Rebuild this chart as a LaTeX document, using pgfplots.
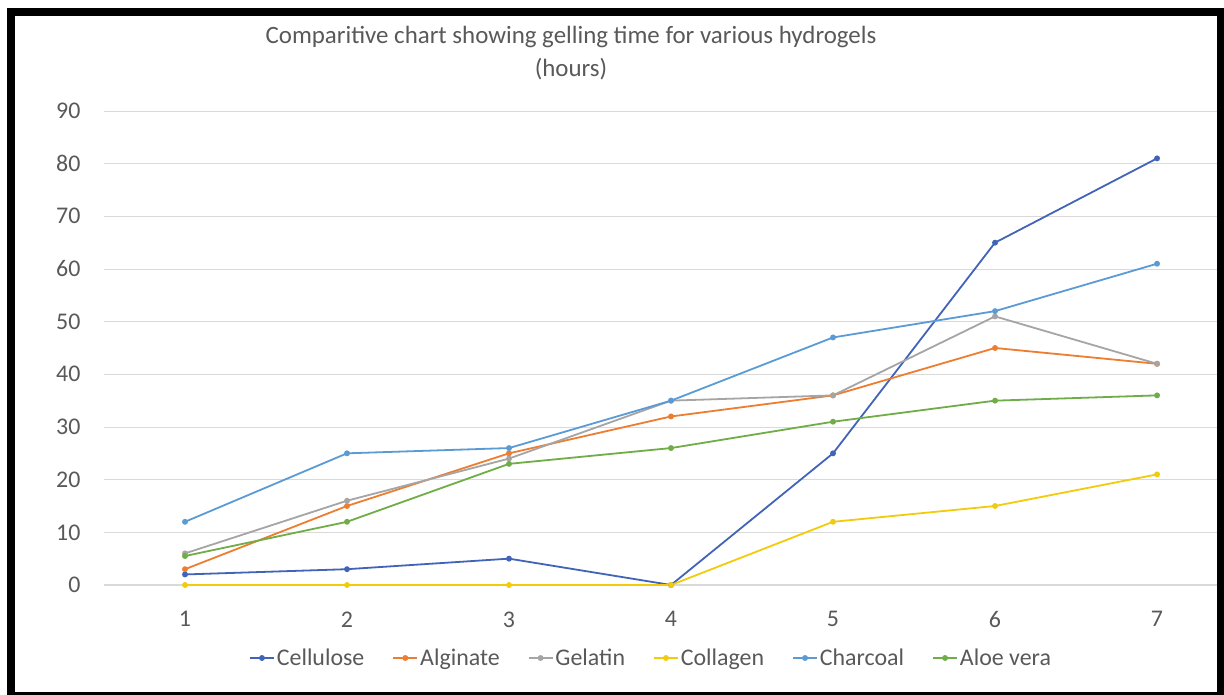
\documentclass[border=0pt]{standalone}
\usepackage{pgfplots}
\pgfplotsset{compat=1.18}
\usepackage{fontspec}
\setmainfont{Carlito}
\definecolor{txt}{HTML}{595959}
\definecolor{grd}{HTML}{D9D9D9}
\definecolor{c1}{HTML}{4264B8}
\definecolor{c2}{HTML}{ED7D31}
\definecolor{c3}{HTML}{A5A5A5}
\definecolor{c4}{HTML}{F2CC0C}
\definecolor{c5}{HTML}{5B9BD5}
\definecolor{c6}{HTML}{70AD47}
\begin{document}
\begin{tikzpicture}[x=1bp,y=1bp]
\useasboundingbox (0,0) rectangle (1224,695);
\fill[white] (0,0) rectangle (1224,695);
\begin{axis}[
  at={(104bp,110bp)}, anchor=south west,
  scale only axis, width=1113bp, height=474bp,
  xmin=0.5, xmax=7.37, ymin=0, ymax=90,
  clip=false,
  axis x line*=bottom, axis y line*=left,
  y axis line style={draw=none},
  x axis line style={grd, line width=1.2bp, -},
  xtick={1,...,7}, ytick={0,10,...,90},
  major tick length=0pt,
  ymajorgrids, grid style={grd, line width=0.8bp},
  ticklabel style={font=\fontsize{24}{28}\selectfont, text=txt},
  /pgf/number format/assume math mode=true,
  xticklabel style={yshift=-23bp},
  yticklabel style={xshift=-20bp},
  every axis plot/.append style={line width=1.8bp, mark=*, mark size=2bp},
  legend style={at={(547bp,-73bp)}, anchor=center, draw=none, fill=none,
    legend columns=6, font=\fontsize{24}{28}\selectfont, text=txt,
    /tikz/every even column/.append style={column sep=26bp},
    inner sep=0pt},
  legend image code/.code={\draw[mark repeat=2,mark phase=2] plot coordinates {(0bp,0bp) (12bp,0bp) (24bp,0bp)};},
]
\addplot[c1] coordinates {(1,2) (2,3) (3,5) (4,0) (5,25) (6,65) (7,81)};
\addplot[c2] coordinates {(1,3) (2,15) (3,25) (4,32) (5,36) (6,45) (7,42)};
\addplot[c3] coordinates {(1,6) (2,16) (3,24) (4,35) (5,36) (6,51) (7,42)};
\addplot[c4] coordinates {(1,0) (2,0) (3,0) (4,0) (5,12) (6,15) (7,21)};
\addplot[c5] coordinates {(1,12) (2,25) (3,26) (4,35) (5,47) (6,52) (7,61)};
\addplot[c6] coordinates {(1,5.5) (2,12) (3,23) (4,26) (5,31) (6,35) (7,36)};
\legend{Cellulose,Alginate,Gelatin,Collagen,Charcoal,Aloe vera}
\end{axis}
\node[align=center, text=txt, font=\fontsize{25}{33}\selectfont] at (571,642) {Comparitive chart showing gelling time for various hydrogels\\(hours)};
\draw[black, line width=8bp] (11,-1) rectangle (1221,683);
\end{tikzpicture}
\end{document}
